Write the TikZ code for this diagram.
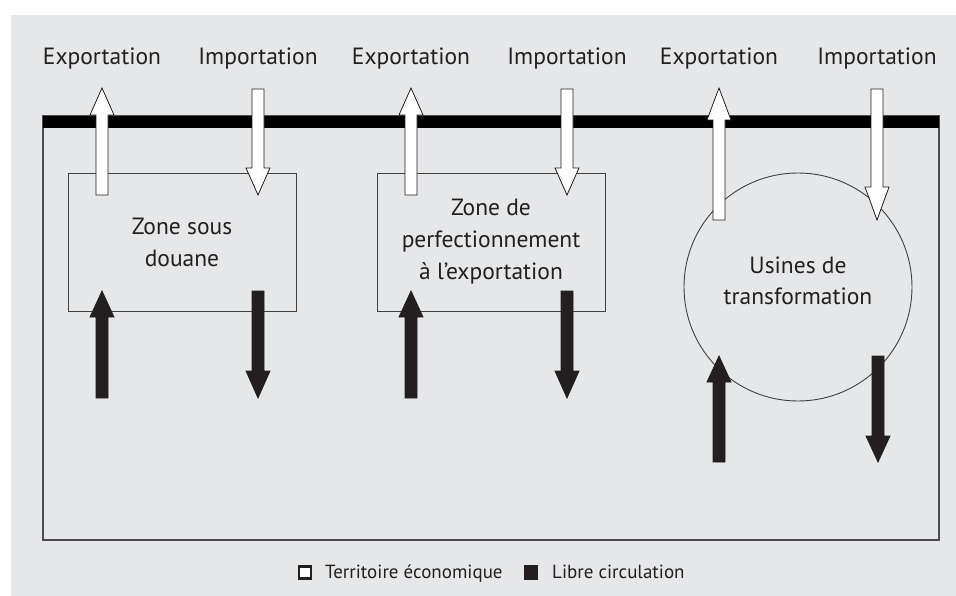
\documentclass[tikz,border=0pt]{standalone}
\usepackage{fontspec}
\setmainfont{PT Sans}
\usetikzlibrary{calc}
\definecolor{bg}{HTML}{E6E7E8}
\definecolor{ink}{HTML}{231F20}
\definecolor{framec}{HTML}{4D4D4F}
\definecolor{boxc}{HTML}{404041}
\newcommand\fatarrow[4][27]{% [head length] tail, tip, fill
  \draw[arrowline, fill=#4] let \p1=(#2), \p2=(#3), \n1={sign(\y2-\y1)} in
    (\x1-6pt,\y1) -- (\x1-6pt,\y2-\n1*#1pt) -- (\x1-12pt,\y2-\n1*#1pt) -- (\x2,\y2)
    -- (\x1+12pt,\y2-\n1*#1pt) -- (\x1+6pt,\y2-\n1*#1pt) -- (\x1+6pt,\y1) -- cycle;}
\tikzset{
  lbl/.style={text=ink, font=\fontsize{23.5}{32}\selectfont, inner sep=0pt, anchor=base},
  zone/.style={draw=boxc, line width=0.9pt, minimum width=228pt, minimum height=138pt,
    text=ink, font=\fontsize{23.5}{32}\selectfont, align=center, inner sep=0pt},
  usine/.style={draw=boxc, line width=0.9pt, circle, minimum size=228pt, inner sep=0pt},
  arrowline/.style={draw=ink, line width=0.8pt, line join=miter},
  frame/.style={draw=framec, line width=1.5pt, minimum width=896pt, minimum height=424pt, inner sep=0pt},
  legsq/.style={draw=ink, line width=2.4pt, minimum size=12pt, inner sep=0pt},
  legtxt/.style={text=ink, font=\fontsize{19}{22}\selectfont, inner sep=0pt, anchor=base west}
}
\begin{document}
\begin{tikzpicture}[x=1pt, y=-1pt]
\useasboundingbox (0,0) rectangle (956,596);
\fill[bg] (11,15) rectangle (956,596);
% territory frame and border bar
\node[frame] (terr) at (491,328) {};
\fill[black] (43,116) rectangle (939,128);
% zones
\node[zone] (z1) at (182,242) {Zone sous\\douane};
\node[zone] (z2) at (491,242) {Zone de\\perfectionnement\\à l’exportation};
\node[usine] (z3) at (798,287) {};
\node[text=ink, font=\fontsize{23.5}{31}\selectfont, align=center, inner sep=0pt] (z3t) at (798,281) {Usines de\\transformation};
% top labels
\node[lbl] (ex1) at (102,65) {Exportation};
\node[lbl] (im1) at (258,65) {Importation};
\node[lbl] (ex2) at (411,65) {Exportation};
\node[lbl] (im2) at (567,65) {Importation};
\node[lbl] (ex3) at (719,65) {Exportation};
\node[lbl] (im3) at (877,65) {Importation};
% arrow end points
\coordinate (a1t) at (102,88);  \coordinate (a1b) at (102,195);
\coordinate (b1t) at (258,89);  \coordinate (b1b) at (258,195);
\coordinate (a2t) at (411,88);  \coordinate (a2b) at (411,195);
\coordinate (b2t) at (567,89);  \coordinate (b2b) at (567,195);
\coordinate (a3t) at (719,88);  \coordinate (a3b) at (719,220);
\coordinate (b3t) at (877,89);  \coordinate (b3b) at (877,220);
\coordinate (c1t) at (102,291); \coordinate (c1b) at (102,398);
\coordinate (d1t) at (258,291); \coordinate (d1b) at (258,398);
\coordinate (c2t) at (411,291); \coordinate (c2b) at (411,398);
\coordinate (d2t) at (567,291); \coordinate (d2b) at (567,398);
\coordinate (c3t) at (719,356); \coordinate (c3b) at (719,462);
\coordinate (d3t) at (878,356); \coordinate (d3b) at (878,462);
% white arrows (economic territory)
\fatarrow{a1b}{a1t}{white}
\fatarrow{b1t}{b1b}{white}
\fatarrow{a2b}{a2t}{white}
\fatarrow{b2t}{b2b}{white}
\fatarrow[32]{a3b}{a3t}{white}
\fatarrow[33]{b3t}{b3b}{white}
% black arrows (free circulation)
\fatarrow[26]{c1b}{c1t}{ink}
\fatarrow{d1t}{d1b}{ink}
\fatarrow[26]{c2b}{c2t}{ink}
\fatarrow{d2t}{d2b}{ink}
\fatarrow[26]{c3b}{c3t}{ink}
\fatarrow[26]{d3t}{d3b}{ink}
% legend
\node[legsq, fill=white] (lw) at (305,572.5) {};
\node[legtxt] (lwt) at (325,578) {Territoire économique};
\node[legsq, fill=ink] (lb) at (531,572.5) {};
\node[legtxt] (lbt) at (552,578) {Libre circulation};
\end{tikzpicture}
\end{document}
